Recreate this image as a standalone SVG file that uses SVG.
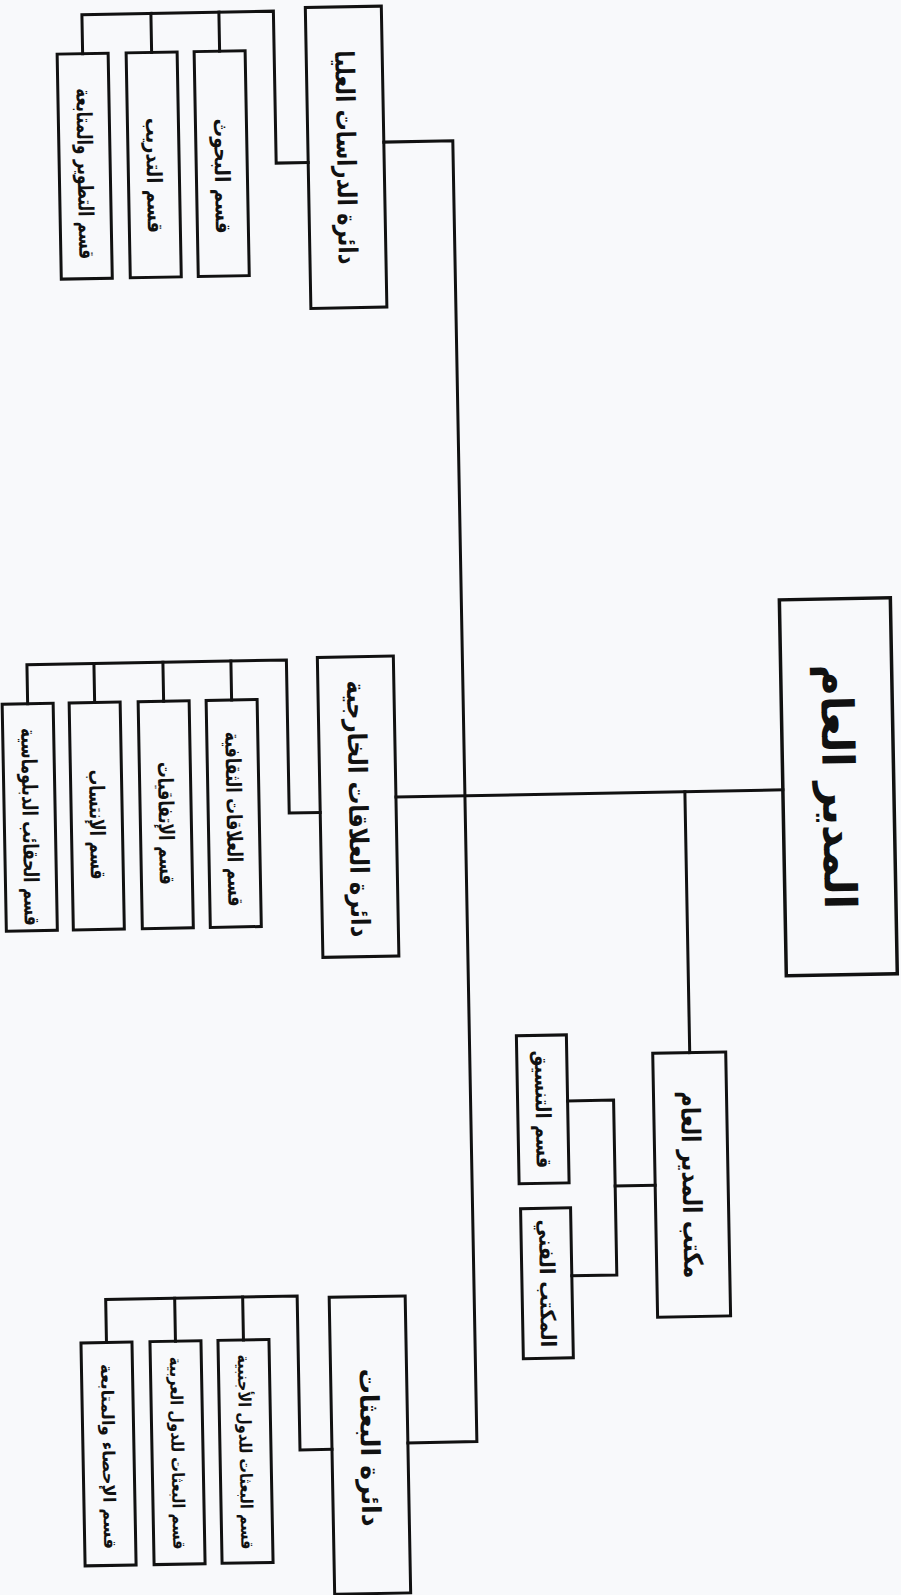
<svg xmlns="http://www.w3.org/2000/svg" width="901" height="1595" viewBox="0 0 901 1595">
<style>
.box{fill:none;stroke:#111;stroke-width:3}
.root{fill:none;stroke:#111;stroke-width:3.5}
.ln{fill:none;stroke:#111;stroke-width:3;stroke-linecap:square;stroke-linejoin:miter}
text{font-family:"DejaVu Sans",sans-serif;font-weight:bold;fill:#111;text-anchor:middle;dominant-baseline:central}
.t0{font-size:44px}
.t1{font-size:26px}
.t2{font-size:21px}
.t3{font-size:17px}
</style>
<rect x="0" y="0" width="901" height="1595" fill="#f8f9fb"/>
<g transform="rotate(-1.06 450 800)">
<g id="connectors">
<path class="ln" d="M396,141 H465 V1442 H396"/>
<path class="ln" d="M396,796 H783"/>
<path class="ln" d="M685,796 V1057"/>
<path class="ln" d="M648,1189 H608"/>
<path class="ln" d="M562,1103 H608 V1278 H563"/>
<path class="ln" d="M320,160 H288 V8 H96.5 V47"/>
<path class="ln" d="M165.5,8 V47 M233.5,8 V47"/>
<path class="ln" d="M320,810 H289 V657 H29.5 V696"/>
<path class="ln" d="M96.5,657 V696 M165.5,657 V696 M233.5,657 V696"/>
<path class="ln" d="M320,1447 H288 V1293 H96.5 V1336"/>
<path class="ln" d="M165.5,1293 V1336 M233.5,1293 V1336"/>
</g>
<g id="n_root"><rect class="root" x="783" y="606" width="111" height="376"/><text class="t0" x="838.5" y="794" transform="rotate(90 838.5 794)" textLength="245" lengthAdjust="spacingAndGlyphs">المدير العام</text></g>
<g id="n_office"><rect class="box" x="648" y="1057" width="73" height="264"/><text class="t1" x="684.5" y="1189" transform="rotate(90 684.5 1189)" textLength="187" lengthAdjust="spacingAndGlyphs">مكتب المدير العام</text></g>
<g id="n_coord"><rect class="box" x="512" y="1037" width="50" height="148"/><text class="t2" x="537" y="1111" transform="rotate(90 537 1111)" textLength="118" lengthAdjust="spacingAndGlyphs">قسم التنسيق</text></g>
<g id="n_tech"><rect class="box" x="513" y="1210" width="50" height="150"/><text class="t2" x="538" y="1285" transform="rotate(90 538 1285)" textLength="128" lengthAdjust="spacingAndGlyphs">المكتب الفني</text></g>
<g id="n_higher"><rect class="box" x="320" y="5" width="76" height="301"/><text class="t1" x="358" y="155.5" transform="rotate(90 358 155.5)" textLength="214" lengthAdjust="spacingAndGlyphs">دائرة الدراسات العليا</text></g>
<g id="n_foreign"><rect class="box" x="320" y="655" width="76" height="300"/><text class="t1" x="358" y="807" transform="rotate(90 358 807)" textLength="257" lengthAdjust="spacingAndGlyphs">دائرة العلاقات الخارجية</text></g>
<g id="n_missions"><rect class="box" x="320" y="1295" width="76" height="297"/><text class="t1" x="358" y="1446" transform="rotate(90 358 1446)" textLength="158" lengthAdjust="spacingAndGlyphs">دائرة البعثات</text></g>
<g id="n_h_dev"><rect class="box" x="71" y="47" width="51" height="225"/><text class="t2" x="96.5" y="167" transform="rotate(90 96.5 167)" textLength="171" lengthAdjust="spacingAndGlyphs">قسم التطوير والمتابعة</text></g>
<g id="n_h_train"><rect class="box" x="140" y="47" width="51" height="225"/><text class="t2" x="165.5" y="170" transform="rotate(90 165.5 170)" textLength="115" lengthAdjust="spacingAndGlyphs">قسم التدريب</text></g>
<g id="n_h_research"><rect class="box" x="208" y="47" width="51" height="225"/><text class="t2" x="233.5" y="172" transform="rotate(90 233.5 172)" textLength="115" lengthAdjust="spacingAndGlyphs">قسم البحوث</text></g>
<g id="n_f_dipl"><rect class="box" x="4" y="696" width="51" height="227"/><text class="t2" x="29.5" y="819" transform="rotate(90 29.5 819)" textLength="198" lengthAdjust="spacingAndGlyphs">قسم الحقائب الدبلوماسية</text></g>
<g id="n_f_affil"><rect class="box" x="71" y="696" width="51" height="227"/><text class="t2" x="96.5" y="818" transform="rotate(90 96.5 818)" textLength="110" lengthAdjust="spacingAndGlyphs">قسم الإنتساب</text></g>
<g id="n_f_agree"><rect class="box" x="140" y="696" width="51" height="227"/><text class="t2" x="165.5" y="818" transform="rotate(90 165.5 818)" textLength="123" lengthAdjust="spacingAndGlyphs">قسم الإتفاقيات</text></g>
<g id="n_f_cult"><rect class="box" x="208" y="696" width="51" height="227"/><text class="t2" x="233.5" y="815" transform="rotate(90 233.5 815)" textLength="175" lengthAdjust="spacingAndGlyphs">قسم العلاقات الثقافية</text></g>
<g id="n_m_stats"><rect class="box" x="71" y="1336" width="51" height="223"/><text class="t3" x="96.5" y="1450" transform="rotate(90 96.5 1450)" textLength="185" lengthAdjust="spacingAndGlyphs">قسم الإحصاء والمتابعة</text></g>
<g id="n_m_arab"><rect class="box" x="140" y="1336" width="51" height="223"/><text class="t3" x="165.5" y="1448" transform="rotate(90 165.5 1448)" textLength="193" lengthAdjust="spacingAndGlyphs">قسم البعثات للدول العربية</text></g>
<g id="n_m_foreign"><rect class="box" x="208" y="1336" width="51" height="223"/><text class="t3" x="233.5" y="1448" transform="rotate(90 233.5 1448)" textLength="195" lengthAdjust="spacingAndGlyphs">قسم البعثات للدول الأجنبية</text></g>
</g>
</svg>
